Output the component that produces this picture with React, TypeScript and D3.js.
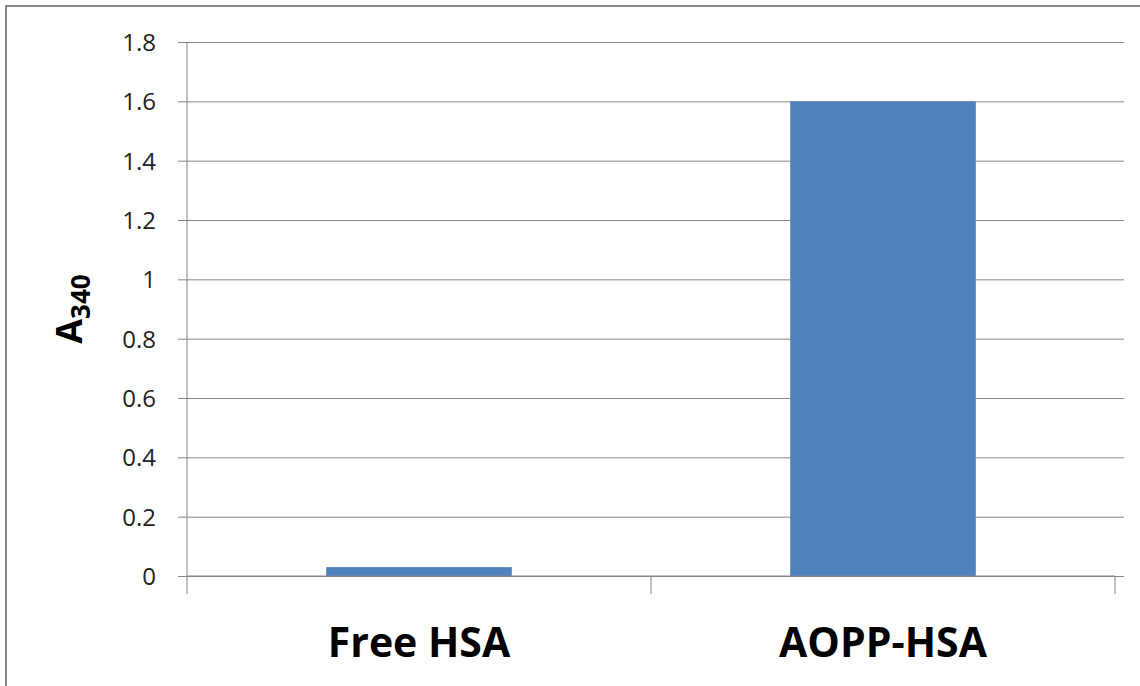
import React, { useEffect, useRef } from "react";
import * as d3 from "d3";

const categories = ["Free HSA", "AOPP-HSA"];
const values = [0.03, 1.6];
const yTicks = [0, 0.2, 0.4, 0.6, 0.8, 1, 1.2, 1.4, 1.6, 1.8];

const App = () => {
  const svgRef = useRef<SVGSVGElement>(null);

  useEffect(() => {
    const w = 1140;
    const h = 686;
    const margin = { top: 42, right: 25, bottom: 110, left: 187 };
    const innerW = w - margin.left - margin.right;
    const innerH = h - margin.top - margin.bottom;

    const svg = d3.select(svgRef.current).attr("width", w).attr("height", h);
    svg.selectAll("*").remove();

    // outer chart border (right and bottom edges fall outside the picture)
    svg
      .append("rect")
      .attr("x", 6)
      .attr("y", 6)
      .attr("width", 1300)
      .attr("height", 900)
      .attr("fill", "white")
      .attr("stroke", "#868686")
      .attr("stroke-width", 2);

    const g = svg.append("g").attr("transform", `translate(${margin.left},${margin.top})`);

    const xScale = d3.scaleBand().domain(categories).range([0, innerW]).paddingInner(0.6).paddingOuter(0.3);
    const band = d3.scaleBand().domain(categories).range([0, innerW]);
    const yScale = d3.scaleLinear().domain([0, 1.8]).range([innerH, 0]);

    // gridlines + y labels
    const yAxis = d3
      .axisLeft(yScale)
      .tickValues(yTicks)
      .tickSize(-innerW - 9)
      .tickFormat((d) => d3.format("")(+(+d).toFixed(1)));
    const ya = g.append("g").attr("transform", "translate(-9,0)").call(yAxis);
    ya.select(".domain").remove();
    ya.selectAll(".tick line").attr("stroke", "#868686").attr("transform", "translate(9,0)").attr("x1", -9);
    ya.selectAll(".tick text")
      .attr("fill", "#222")
      .attr("font-family", "Open Sans, sans-serif")
      .attr("font-size", 24)
      .attr("dy", "0.35em")
      .attr("x", -22);

    // bars
    g.selectAll(".bar")
      .data(values)
      .enter()
      .append("rect")
      .attr("class", "bar")
      .attr("x", (d, i) => xScale(categories[i])!)
      .attr("y", (d) => yScale(d))
      .attr("width", xScale.bandwidth())
      .attr("height", (d) => innerH - yScale(d))
      .attr("fill", "#4F81BD");

    // y axis line
    g.append("line")
      .attr("x1", 0)
      .attr("x2", 0)
      .attr("y1", 0)
      .attr("y2", innerH + 18)
      .attr("stroke", "#868686");

    // x axis line and category ticks
    g.append("line")
      .attr("x1", 0)
      .attr("x2", innerW)
      .attr("y1", innerH)
      .attr("y2", innerH)
      .attr("stroke", "#868686");
    const edges = categories.map((c) => band(c)! + band.bandwidth());
    g.selectAll(".xtick")
      .data(edges)
      .enter()
      .append("line")
      .attr("x1", (d) => d)
      .attr("x2", (d) => d)
      .attr("y1", innerH)
      .attr("y2", innerH + 18)
      .attr("stroke", "#868686");

    // category labels
    g.selectAll(".xlabel")
      .data(categories)
      .enter()
      .append("text")
      .attr("x", (d) => band(d)! + band.bandwidth() / 2)
      .attr("y", innerH + 81)
      .attr("text-anchor", "middle")
      .attr("font-family", "Open Sans, sans-serif")
      .attr("font-weight", "bold")
      .attr("font-size", 41)
      .attr("fill", "#000")
      .text((d) => d);

    // y title A340
    const title = svg
      .append("text")
      .attr("transform", `translate(82,${margin.top + innerH / 2}) rotate(-90)`)
      .attr("text-anchor", "middle")
      .attr("font-family", "Open Sans, sans-serif")
      .attr("font-weight", "bold")
      .attr("fill", "#000");
    title.append("tspan").attr("font-size", 36).text("A");
    title.append("tspan").attr("font-size", 26).attr("dy", 8).text("340");
  }, []);

  return (
    <div style={{ position: "absolute", left: 0, top: 0 }}>
      <svg ref={svgRef}></svg>
    </div>
  );
};

export default App;
